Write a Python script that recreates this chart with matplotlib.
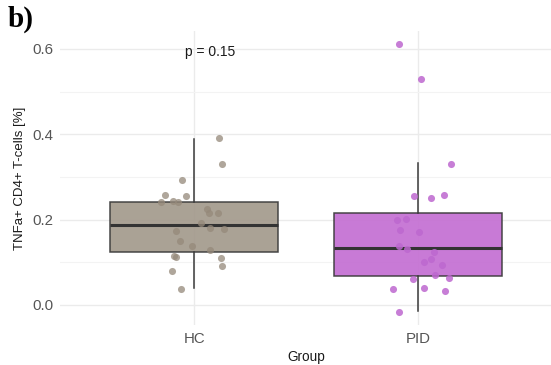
import matplotlib.pyplot as plt

plt.rcParams['font.family'] = ['Liberation Sans', 'DejaVu Sans']

groups = ['HC', 'PID']
fill_colors = ['#a39a8c', '#c46fd3']
point_colors = ['#95897a', '#bd68cf']

# jittered points (x in category units, y in %)
hc_x = [1.112, 1.126, 0.946, 0.867, 0.961, 0.850, 0.905, 0.929, 1.059, 1.067, 1.108, 1.028,
        1.071, 1.131, 0.918, 0.938, 0.988, 1.070, 0.909, 0.917, 1.121, 1.126, 0.900, 0.942]
hc_y = [0.391, 0.331, 0.293, 0.258, 0.255, 0.241, 0.244, 0.240, 0.224, 0.216, 0.216, 0.193,
        0.180, 0.177, 0.173, 0.150, 0.139, 0.128, 0.115, 0.112, 0.109, 0.090, 0.080, 0.037]
pid_x = [1.914, 2.013, 2.147, 1.981, 2.057, 2.115, 1.908, 1.946, 1.920, 2.004, 1.915, 1.952,
         2.070, 2.059, 2.028, 2.108, 2.076, 2.137, 1.979, 1.890, 2.028, 2.121, 1.917]
pid_y = [0.612, 0.530, 0.330, 0.254, 0.251, 0.257, 0.198, 0.202, 0.176, 0.171, 0.137, 0.130,
         0.124, 0.107, 0.101, 0.094, 0.069, 0.063, 0.060, 0.037, 0.040, 0.032, -0.016]

# box statistics per group
whisker_low = [0.039, -0.014]
q1 = [0.124, 0.067]
median = [0.187, 0.133]
q3 = [0.242, 0.215]
whisker_high = [0.389, 0.333]

p_label = 'p = 0.15'

fig = plt.figure(figsize=(5.51, 3.65), dpi=100)
ax = fig.add_axes([0.109, 0.110, 0.893, 0.805])

stats = []
for i, g in enumerate(groups):
    stats.append(dict(label=g, whislo=whisker_low[i], q1=q1[i], med=median[i],
                      q3=q3[i], whishi=whisker_high[i], fliers=[]))

bp = ax.bxp(stats, positions=[1, 2], widths=0.75, patch_artist=True, showcaps=False,
            boxprops=dict(edgecolor='#3a3a3a', linewidth=1.1),
            whiskerprops=dict(color='#3a3a3a', linewidth=1.1),
            medianprops=dict(color='#333333', linewidth=2.2),
            zorder=2)
for patch, c in zip(bp['boxes'], fill_colors):
    patch.set_facecolor(c)
    patch.set_alpha(0.92)

ax.scatter(hc_x, hc_y, s=26, color=point_colors[0], alpha=0.75, linewidths=0, zorder=3)
ax.scatter(pid_x, pid_y, s=26, color=point_colors[1], alpha=0.85, linewidths=0, zorder=3)

ax.text(1.07, 0.593, p_label, ha='center', va='center', fontsize=10, color='#1a1a1a')

ax.set_xlim(0.4, 2.6)
ax.set_ylim(-0.047, 0.642)
ax.set_xticks([1, 2])
ax.set_xticklabels(groups)
ax.set_yticks([0.0, 0.2, 0.4, 0.6])
ax.set_yticklabels(['0.0', '0.2', '0.4', '0.6'])
ax.set_yticks([0.1, 0.3, 0.5], minor=True)

ax.grid(True, which='major', color='#ebebeb', linewidth=1.0, zorder=0)
ax.grid(True, which='minor', axis='y', color='#f3f3f3', linewidth=0.8, zorder=0)
ax.set_axisbelow(True)
for s in ax.spines.values():
    s.set_visible(False)
ax.tick_params(which='both', length=0, labelsize=10.8, labelcolor='#555555', pad=5)

ax.set_xlabel('Group', fontsize=9.8, color='#1a1a1a', labelpad=3)
ax.set_ylabel('TNFa+ CD4+ T-cells [%]', fontsize=9.5, color='#1a1a1a', labelpad=4)

fig.text(0.014, 0.985, 'b)', fontsize=21, fontweight='bold', family='Liberation Serif',
         ha='left', va='top')

fig.savefig('out.png', dpi=100)
